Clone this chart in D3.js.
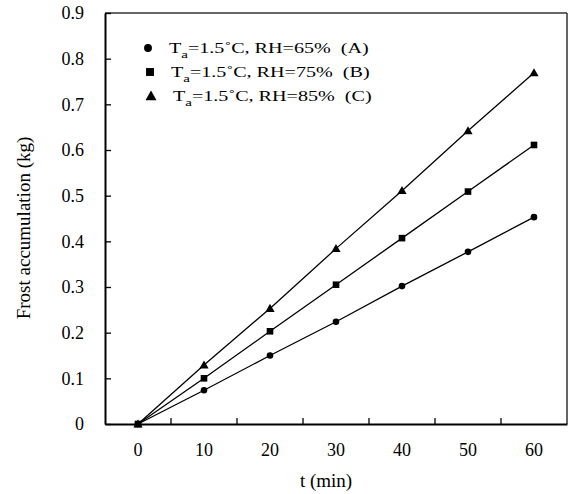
<html>
<head>
    <script src="https://d3js.org/d3.v7.min.js"></script>
    <style>
        body { margin: 0; background: white; }
        text { font-family: "Liberation Serif", "Times New Roman", serif; fill: black; }
    </style>
</head>
<body>
<div id="chart"></div>

<script>
    // data
    var times = [0, 10, 20, 30, 40, 50, 60]
    var rh65 = [0, 0.074, 0.150, 0.224, 0.302, 0.377, 0.453]
    var rh75 = [0, 0.100, 0.203, 0.305, 0.407, 0.509, 0.611]
    var rh85 = [0, 0.129, 0.253, 0.384, 0.511, 0.642, 0.769]
    var yTicks = [0, 0.1, 0.2, 0.3, 0.4, 0.5, 0.6, 0.7, 0.8, 0.9]
    var legendLabels = ["=1.5\u02DAC, RH=65%  (A)", "=1.5\u02DAC, RH=75%  (B)", "=1.5\u02DAC, RH=85%  (C)"]

    var series = [
        {values: rh65, marker: "circle"},
        {values: rh75, marker: "square"},
        {values: rh85, marker: "triangle"}
    ]

    var width = 571, height = 494
    var plotL = 105, plotR = 567, plotT = 13, plotB = 424

    var svg = d3.select("#chart")
        .append("svg")
        .attr("width", width)
        .attr("height", height)
        .style("background-color", "white")

    var x = d3.scaleBand().domain(times).range([plotL, plotR]).padding(0)
    var y = d3.scaleLinear().domain([0, 0.9]).range([plotB, plotT])

    function cx(t) { return x(t) + x.bandwidth() / 2 }

    // frame: top and right
    svg.append("line").attr("x1", plotL).attr("x2", plotR).attr("y1", plotT).attr("y2", plotT)
        .attr("stroke", "#333").attr("stroke-width", 1.5)
    svg.append("line").attr("x1", plotR).attr("x2", plotR).attr("y1", plotT).attr("y2", plotB)
        .attr("stroke", "#333").attr("stroke-width", 1.5)

    // y axis
    var yAxis = svg.append("g")
        .attr("transform", "translate(" + plotL + ",0)")
        .call(d3.axisLeft(y).tickValues(yTicks).tickSizeInner(-6).tickSizeOuter(0).tickPadding(21)
            .tickFormat(function(d){ return d === 0 ? "0" : d3.format(".1f")(d) }))
    yAxis.select(".domain").attr("stroke", "black").attr("stroke-width", 2)
    yAxis.selectAll(".tick line").attr("stroke", "black").attr("stroke-width", 1.3)
    yAxis.selectAll("text").style("font-size", "18px").attr("font-family", null)

    // x axis (category style, ticks between categories)
    var xAxis = svg.append("g")
        .attr("transform", "translate(0," + plotB + ")")
        .call(d3.axisBottom(x).tickSize(0).tickPadding(19))
    xAxis.select(".domain").attr("stroke", "black").attr("stroke-width", 2)
    xAxis.selectAll("text").style("font-size", "18px").attr("font-family", null)
    xAxis.selectAll(".sep")
        .data(times.slice(1))
        .enter().append("line")
        .attr("x1", function(d){ return x(d) })
        .attr("x2", function(d){ return x(d) })
        .attr("y1", 0).attr("y2", -6)
        .attr("stroke", "black").attr("stroke-width", 1.3)

    // axis titles
    svg.append("text")
        .attr("x", 326).attr("y", 487)
        .attr("text-anchor", "middle")
        .style("font-size", "19px")
        .text("t (min)")
    svg.append("text")
        .attr("transform", "translate(30,228) rotate(-90)")
        .attr("text-anchor", "middle")
        .style("font-size", "19px")
        .text("Frost accumulation (kg)")

    // lines
    var line = d3.line()
        .x(function(d, i){ return cx(times[i]) })
        .y(function(d){ return y(d) })

    function drawMarker(g, kind, px, py, s) {
        if (kind === "circle") {
            g.append("circle").attr("cx", px).attr("cy", py).attr("r", 3.3 * s).attr("fill", "black")
        } else if (kind === "square") {
            g.append("rect").attr("x", px - 3.3 * s).attr("y", py - 3.3 * s)
                .attr("width", 6.6 * s).attr("height", 6.6 * s).attr("fill", "black")
        } else {
            var h = 4.6 * s
            g.append("path")
                .attr("d", "M" + px + "," + (py - h) + "L" + (px + h) + "," + (py + h * 0.75) + "L" + (px - h) + "," + (py + h * 0.75) + "Z")
                .attr("fill", "black")
        }
    }

    series.forEach(function(s) {
        svg.append("path")
            .datum(s.values)
            .attr("d", line)
            .attr("fill", "none")
            .attr("stroke", "black")
            .attr("stroke-width", 1.3)
        var g = svg.append("g")
        s.values.forEach(function(v, i) {
            drawMarker(g, s.marker, cx(times[i]), y(v), 1)
        })
    })

    // legend
    var legend = svg.append("g")
    var legendY = [48, 72, 96]
    var markerX = [148, 150, 151]
    var textX = [169, 171, 173]
    series.forEach(function(s, i) {
        drawMarker(legend, s.marker, markerX[i], legendY[i], 1.2)
        var t = legend.append("text")
            .attr("transform", "translate(" + textX[i] + "," + (legendY[i] + 5) + ") scale(1.36,1)")
            .style("font-size", "14.8px")
            .style("white-space", "pre")
        t.append("tspan").text("T")
        t.append("tspan").attr("dy", 5).style("font-size", "11px").text("a")
        t.append("tspan").attr("dy", -5).text(legendLabels[i])
    })
</script>

</body>
</html>
